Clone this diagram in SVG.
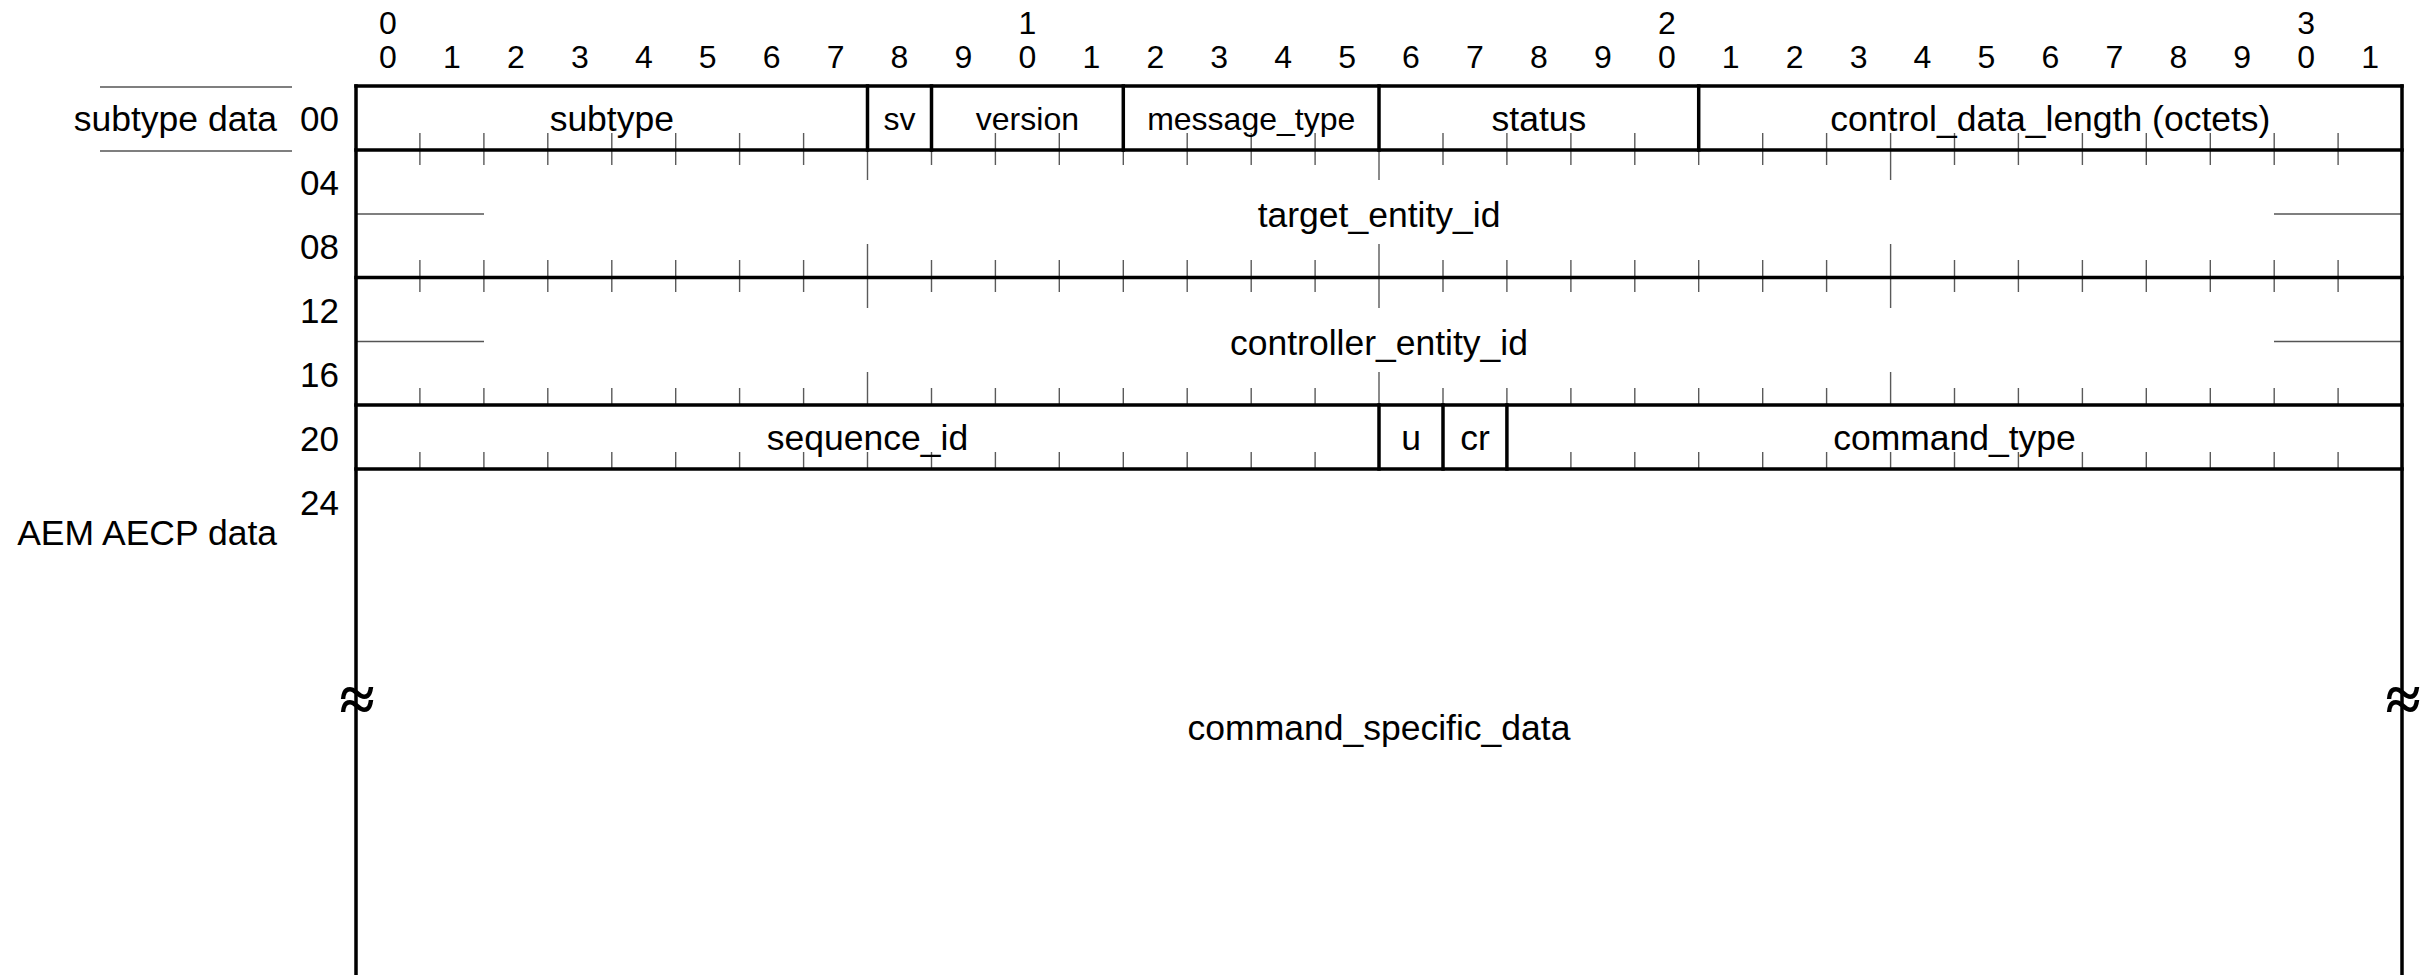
<svg xmlns="http://www.w3.org/2000/svg" width="2432" height="975" viewBox="0 0 2432 975">
<style>
text{font-family:"Liberation Sans",Arial,Helvetica,sans-serif;fill:#000}
.lbl{font-size:35.5px;text-anchor:middle}
.sm{font-size:32px;text-anchor:middle}
.num{font-size:32px;text-anchor:middle}
.row{font-size:35px;text-anchor:end}
.side{font-size:35.5px;text-anchor:end}
.brd{stroke:#000;stroke-width:3.5;fill:none;stroke-linecap:square}
.tick{stroke:#5a5a5a;stroke-width:1.4;fill:none}
.thin{stroke:#555;stroke-width:1.4;fill:none}
.brk{font-family:"Liberation Serif","Times New Roman",serif;font-weight:bold;font-size:64px;text-anchor:middle}
</style>
<rect width="2432" height="975" fill="#fff"/>

<g id="bit-header">
<text class="num" x="388" y="34">0</text>
<text class="num" x="1027.4" y="34">1</text>
<text class="num" x="1666.8" y="34">2</text>
<text class="num" x="2306.2" y="34">3</text>
<text class="num" x="388" y="68">0</text>
<text class="num" x="451.9" y="68">1</text>
<text class="num" x="515.9" y="68">2</text>
<text class="num" x="579.8" y="68">3</text>
<text class="num" x="643.8" y="68">4</text>
<text class="num" x="707.7" y="68">5</text>
<text class="num" x="771.6" y="68">6</text>
<text class="num" x="835.6" y="68">7</text>
<text class="num" x="899.5" y="68">8</text>
<text class="num" x="963.4" y="68">9</text>
<text class="num" x="1027.4" y="68">0</text>
<text class="num" x="1091.3" y="68">1</text>
<text class="num" x="1155.3" y="68">2</text>
<text class="num" x="1219.2" y="68">3</text>
<text class="num" x="1283.1" y="68">4</text>
<text class="num" x="1347.1" y="68">5</text>
<text class="num" x="1411" y="68">6</text>
<text class="num" x="1474.9" y="68">7</text>
<text class="num" x="1538.9" y="68">8</text>
<text class="num" x="1602.8" y="68">9</text>
<text class="num" x="1666.8" y="68">0</text>
<text class="num" x="1730.7" y="68">1</text>
<text class="num" x="1794.6" y="68">2</text>
<text class="num" x="1858.6" y="68">3</text>
<text class="num" x="1922.5" y="68">4</text>
<text class="num" x="1986.5" y="68">5</text>
<text class="num" x="2050.4" y="68">6</text>
<text class="num" x="2114.3" y="68">7</text>
<text class="num" x="2178.3" y="68">8</text>
<text class="num" x="2242.2" y="68">9</text>
<text class="num" x="2306.2" y="68">0</text>
<text class="num" x="2370.1" y="68">1</text>
</g>

<g id="row-offsets">
<text class="row" x="339" y="131">00</text>
<text class="row" x="339" y="195">04</text>
<text class="row" x="339" y="259">08</text>
<text class="row" x="339" y="323">12</text>
<text class="row" x="339" y="387">16</text>
<text class="row" x="339" y="451">20</text>
<text class="row" x="339" y="515">24</text>
</g>

<g id="side-subtype-data">
<path class="thin" d="M100 87H292M100 151H292"/>
<text class="side" x="277" y="131">subtype data</text>
</g>
<g id="side-aem-aecp-data">
<text class="side" x="277" y="545">AEM AECP data</text>
</g>

<g id="ticks">
<path class="tick" d="M419.9 133V150M483.9 133V150M547.8 133V150M611.8 133V150M675.7 133V150M739.6 133V150M803.6 133V150M995.4 133V150M1059.3 133V150M1187.2 133V150M1251.2 133V150M1315.1 133V150M1443 133V150M1506.9 133V150M1570.9 133V150M1634.8 133V150M1762.7 133V150M1826.6 133V150M1890.6 133V150M1954.5 133V150M2018.4 133V150M2082.4 133V150M2146.3 133V150M2210.3 133V150M2274.2 133V150M2338.1 133V150"/>
<path class="tick" d="M419.9 150V165M483.9 150V165M547.8 150V165M611.8 150V165M675.7 150V165M739.6 150V165M803.6 150V165M931.5 150V165M995.4 150V165M1059.3 150V165M1123.3 150V165M1187.2 150V165M1251.2 150V165M1315.1 150V165M1443 150V165M1506.9 150V165M1570.9 150V165M1634.8 150V165M1698.7 150V165M1762.7 150V165M1826.6 150V165M1954.5 150V165M2018.4 150V165M2082.4 150V165M2146.3 150V165M2210.3 150V165M2274.2 150V165M2338.1 150V165M867.5 150V180M1379 150V180M1890.6 150V180"/>
<path class="tick" d="M419.9 260V277.5M483.9 260V277.5M547.8 260V277.5M611.8 260V277.5M675.7 260V277.5M739.6 260V277.5M803.6 260V277.5M931.5 260V277.5M995.4 260V277.5M1059.3 260V277.5M1123.3 260V277.5M1187.2 260V277.5M1251.2 260V277.5M1315.1 260V277.5M1443 260V277.5M1506.9 260V277.5M1570.9 260V277.5M1634.8 260V277.5M1698.7 260V277.5M1762.7 260V277.5M1826.6 260V277.5M1954.5 260V277.5M2018.4 260V277.5M2082.4 260V277.5M2146.3 260V277.5M2210.3 260V277.5M2274.2 260V277.5M2338.1 260V277.5M867.5 244V277.5M1379 244V277.5M1890.6 244V277.5"/>
<path class="tick" d="M419.9 277.5V292M483.9 277.5V292M547.8 277.5V292M611.8 277.5V292M675.7 277.5V292M739.6 277.5V292M803.6 277.5V292M931.5 277.5V292M995.4 277.5V292M1059.3 277.5V292M1123.3 277.5V292M1187.2 277.5V292M1251.2 277.5V292M1315.1 277.5V292M1443 277.5V292M1506.9 277.5V292M1570.9 277.5V292M1634.8 277.5V292M1698.7 277.5V292M1762.7 277.5V292M1826.6 277.5V292M1954.5 277.5V292M2018.4 277.5V292M2082.4 277.5V292M2146.3 277.5V292M2210.3 277.5V292M2274.2 277.5V292M2338.1 277.5V292M867.5 277.5V308M1379 277.5V308M1890.6 277.5V308"/>
<path class="tick" d="M419.9 388V405M483.9 388V405M547.8 388V405M611.8 388V405M675.7 388V405M739.6 388V405M803.6 388V405M931.5 388V405M995.4 388V405M1059.3 388V405M1123.3 388V405M1187.2 388V405M1251.2 388V405M1315.1 388V405M1443 388V405M1506.9 388V405M1570.9 388V405M1634.8 388V405M1698.7 388V405M1762.7 388V405M1826.6 388V405M1954.5 388V405M2018.4 388V405M2082.4 388V405M2146.3 388V405M2210.3 388V405M2274.2 388V405M2338.1 388V405M867.5 372V405M1379 372V405M1890.6 372V405"/>
<path class="tick" d="M419.9 452V469M483.9 452V469M547.8 452V469M611.8 452V469M675.7 452V469M739.6 452V469M803.6 452V469M867.5 452V469M931.5 452V469M995.4 452V469M1059.3 452V469M1123.3 452V469M1187.2 452V469M1251.2 452V469M1315.1 452V469M1570.9 452V469M1634.8 452V469M1698.7 452V469M1762.7 452V469M1826.6 452V469M1890.6 452V469M1954.5 452V469M2018.4 452V469M2082.4 452V469M2146.3 452V469M2210.3 452V469M2274.2 452V469M2338.1 452V469"/>
<path class="thin" d="M356 214H484M2274 214H2402M356 341.5H484M2274 341.5H2402"/>
</g>

<g id="frame">
<path class="brd" d="M356 86H2402M356 150H2402M356 277.5H2402M356 405H2402M356 469H2402"/>
<path class="brd" d="M356 86V980M2402 86V980" stroke-linecap="butt"/>
</g>

<g id="field-subtype"><path class="brd" d="M867.5 86V150"/><text class="lbl" x="611.8" y="131">subtype</text></g>
<g id="field-sv"><path class="brd" d="M931.5 86V150"/><text class="sm" x="899.5" y="130">sv</text></g>
<g id="field-version"><path class="brd" d="M1123.3 86V150"/><text class="sm" x="1027.4" y="130">version</text></g>
<g id="field-message_type"><path class="brd" d="M1379 86V150"/><text class="sm" x="1251.2" y="130">message_type</text></g>
<g id="field-status"><path class="brd" d="M1698.7 86V150"/><text class="lbl" x="1538.9" y="131">status</text></g>
<g id="field-control_data_length"><text class="lbl" x="2050.4" y="131">control_data_length (octets)</text></g>
<g id="field-target_entity_id"><text class="lbl" x="1379" y="227">target_entity_id</text></g>
<g id="field-controller_entity_id"><text class="lbl" x="1379" y="355">controller_entity_id</text></g>
<g id="field-sequence_id"><path class="brd" d="M1379 405V469"/><text class="lbl" x="867.5" y="450">sequence_id</text></g>
<g id="field-u"><path class="brd" d="M1443 405V469"/><text class="lbl" x="1411" y="450">u</text></g>
<g id="field-cr"><path class="brd" d="M1506.9 405V469"/><text class="lbl" x="1475" y="450">cr</text></g>
<g id="field-command_type"><text class="lbl" x="1954.5" y="450">command_type</text></g>
<g id="field-command_specific_data">
<text class="lbl" x="1379" y="740">command_specific_data</text>
<text class="brk" x="357" y="721">≈</text>
<text class="brk" x="2403" y="721">≈</text>
</g>
</svg>
